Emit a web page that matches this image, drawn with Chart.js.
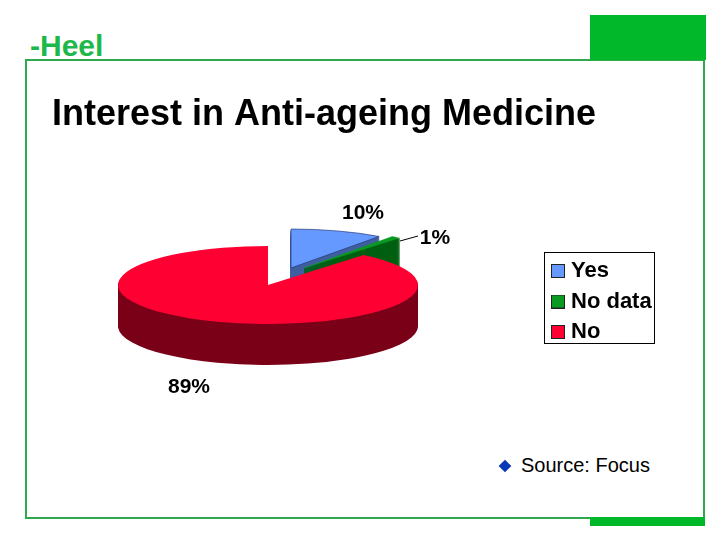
<!DOCTYPE html>
<html>
<head>
<meta charset="utf-8">
<script src="https://cdn.jsdelivr.net/npm/chart.js@4/dist/chart.umd.js"></script>
<style>
html,body{margin:0;padding:0;background:#fff;width:720px;height:540px;overflow:hidden;font-family:"Liberation Sans",Arial,sans-serif}
.abs{position:absolute}
#frame{left:25px;top:59px;width:676px;height:456px;border:2px solid #2fa84f}
#blockTop{left:590px;top:15px;width:116px;height:45px;background:#00b82a}
#blockBottom{left:590px;top:517px;width:115px;height:9px;background:#00b82a}
#brand{left:30px;top:29px;font-weight:bold;font-size:30px;line-height:34px;color:#1db84a}
#bullet{left:500px;top:461px;width:10px;height:10px;background:#0a36b8;transform:rotate(45deg) scale(.9)}
#source{left:521px;top:453px;font-size:20px;line-height:24px;color:#000}
canvas{position:absolute;left:0;top:0}
</style>
</head>
<body>
<div id="frame" class="abs"></div>
<div id="blockTop" class="abs"></div>
<div id="blockBottom" class="abs"></div>
<div id="brand" class="abs">-Heel</div>
<div id="bullet" class="abs"></div>
<div id="source" class="abs">Source: Focus</div>
<canvas id="c" width="720" height="540"></canvas>
<script>
const categories = ['Yes', 'No data', 'No'];
const values = [10, 1, 89];
const topColors = ['#6699ff', '#0a9a22', '#ff0033'];
const wallColors = ['#3f5f9f', '#005f12', '#7a0018'];
const edgeColors = ['#1f2f6f', '#0a9a22', '#ff0033'];
const edgeWidths = [1, 0.6, 0];
const wallEdgeWidths = [1, 1, 0];
const explodeX = [23, 36, 0];
const explodeY = [-17, -17, 0];
const titleText = 'Interest in Anti-ageing Medicine';

const TILT = 0.26, DEPTH = 41;
const labelOffsets = [[95, -72], [167, -47], [-79, 102]];

function swatch(color) {
  const s = document.createElement('canvas');
  s.width = 14; s.height = 14;
  const g = s.getContext('2d');
  g.fillStyle = color; g.fillRect(0, 0, 14, 14);
  g.strokeStyle = '#222'; g.lineWidth = 1; g.strokeRect(.5, .5, 13, 13);
  return s;
}

const pie3d = {
  id: 'pie3d',
  beforeDatasetsDraw(chart) {
    const ctx = chart.ctx, arcs = chart.getDatasetMeta(0).data;
    const cx = arcs[0].x, cy = arcs[0].y;
    ctx.save();
    ctx.translate(cx, cy); ctx.scale(1, TILT); ctx.translate(-cx, -cy);
    arcs.forEach((el, i) => {
      const dx = explodeX[i], dy = explodeY[i] / TILT;
      const base = el.options;
      el.options = {...base, backgroundColor: wallColors[i], borderColor: wallColors[i], borderWidth: wallEdgeWidths[i]};
      for (let d = DEPTH; d > 0; d--) {
        ctx.save(); ctx.translate(dx, dy + d / TILT); el.draw(ctx); ctx.restore();
      }
      el.options = {...base, borderColor: edgeColors[i], borderWidth: edgeWidths[i]};
      ctx.save(); ctx.translate(dx, dy); el.draw(ctx); ctx.restore();
      el.options = base;
    });
    ctx.restore();
    return false;
  },
  afterLayout(chart) {
    const lg = chart.legend, t = chart.titleBlock;
    lg.left = 547.5; lg.right = 660; lg.top = 251.5; lg.bottom = 360;
    t.left = 52; t.right = 700; t.top = 93; t.bottom = 136;
  },
  afterDraw(chart) {
    const ctx = chart.ctx, arcs = chart.getDatasetMeta(0).data;
    const cx = arcs[0].x, cy = arcs[0].y;
    const total = values.reduce((a, b) => a + b, 0);
    ctx.save();
    ctx.fillStyle = '#000';
    ctx.font = 'bold 21px "Liberation Sans"';
    ctx.textAlign = 'center'; ctx.textBaseline = 'middle';
    values.forEach((v, i) => {
      ctx.fillText(Math.round(v / total * 100) + '%', cx + labelOffsets[i][0], cy + labelOffsets[i][1]);
    });
    ctx.strokeStyle = '#000'; ctx.lineWidth = 1;
    ctx.beginPath(); ctx.moveTo(cx + 132, cy - 44); ctx.lineTo(cx + 150, cy - 49); ctx.stroke();
    ctx.strokeRect(544.5, 252.5, 110, 91);
    ctx.restore();
  }
};

new Chart(document.getElementById('c'), {
  type: 'pie',
  data: {
    labels: categories,
    datasets: [{
      data: values,
      backgroundColor: topColors,
      borderColor: edgeColors,
      borderWidth: 0
    }]
  },
  options: {
    responsive: false,
    animation: false,
    layout: {padding: {left: 118, right: 302, top: 91.8, bottom: 105}},
    plugins: {
      tooltip: {enabled: false},
      title: {
        display: true, text: titleText, align: 'start', fullSize: false,
        color: '#000', padding: 0,
        font: {family: '"Liberation Sans"', size: 36, weight: 'bold', lineHeight: 1.2}
      },
      legend: {
        position: 'chartArea', align: 'start',
        labels: {
          color: '#000', padding: 8.5, usePointStyle: true, pointStyleWidth: 4,
          font: {family: '"Liberation Sans"', size: 22, weight: 'bold'},
          generateLabels(chart) {
            return categories.map((name, i) => ({
              text: name, index: i, pointStyle: swatch(topColors[i]),
              fontColor: '#000', hidden: false, lineWidth: 0
            }));
          }
        }
      }
    }
  },
  plugins: [pie3d]
});
</script>
</body>
</html>
